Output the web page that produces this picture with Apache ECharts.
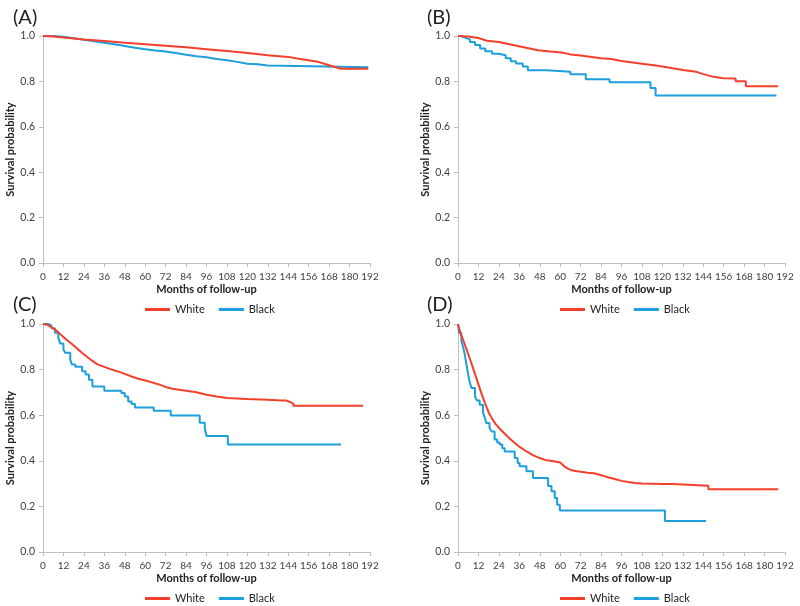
<!DOCTYPE html>
<html>
<head>
<meta charset="utf-8">
<title>Survival by race</title>
<script src="https://cdn.jsdelivr.net/npm/echarts@6/dist/echarts.min.js"></script>
<style>
  html, body { margin: 0; padding: 0; background: #fff; }
  #main { width: 800px; height: 606px; }
</style>
</head>
<body>
<div id="main"></div>
<script>
// months ticks on x axis
var monthTicks = [0, 12, 24, 36, 48, 60, 72, 84, 96, 108, 120, 132, 144, 156, 168, 180, 192];
var panelLabels = ['(A)', '(B)', '(C)', '(D)'];
var groups = ['White', 'Black'];

// panel A  (white drawn as a fine curve, repeated month = visible drop)
var aWhiteT = [0, 6, 12, 24, 36, 48, 60, 72, 84, 96, 108, 120, 132, 144, 150, 156, 162, 168, 172, 175, 191];
var aWhiteS = [1.0, 0.998, 0.993, 0.985, 0.978, 0.970, 0.964, 0.957, 0.950, 0.942, 0.934, 0.925, 0.915, 0.908, 0.900, 0.893, 0.885, 0.871, 0.862, 0.856, 0.856];
var aBlackT = [0, 6, 12, 18, 24, 30, 36, 42, 48, 54, 60, 66, 72, 78, 84, 90, 96, 102, 108, 114, 120, 126, 132, 191];
var aBlackS = [1.0, 0.997, 0.990, 0.983, 0.977, 0.970, 0.964, 0.956, 0.948, 0.942, 0.936, 0.932, 0.925, 0.917, 0.911, 0.906, 0.899, 0.893, 0.886, 0.878, 0.876, 0.870, 0.862, 0.862];

// panel B
var bWhiteT = [0, 6, 12, 17, 24, 33, 40, 47, 54, 61, 66, 72, 84, 90, 96, 108, 115, 120, 126, 133, 140, 144, 150, 156, 163, 163, 169, 169, 188];
var bWhiteS = [1.0, 0.998, 0.991, 0.979, 0.974, 0.959, 0.948, 0.937, 0.932, 0.927, 0.919, 0.914, 0.902, 0.899, 0.890, 0.878, 0.871, 0.866, 0.858, 0.849, 0.842, 0.832, 0.820, 0.814, 0.813, 0.801, 0.801, 0.779, 0.779];
var bBlackT = [0, 2, 4, 7, 10, 13, 16, 20, 24, 28, 31, 34, 38, 41, 52, 66, 75, 89, 113, 116, 187];
var bBlackS = [1.0, 0.993, 0.985, 0.974, 0.960, 0.945, 0.933, 0.922, 0.915, 0.902, 0.889, 0.879, 0.866, 0.849, 0.842, 0.832, 0.810, 0.796, 0.771, 0.738, 0.738];

// panel C
var cWhiteT = [0, 3, 5, 8, 11, 14, 17, 20, 23, 26, 29, 32, 36, 40, 44, 48, 52, 56, 60, 64, 68, 72, 76, 80, 84, 90, 96, 102, 108, 114, 120, 132, 140, 143, 143, 145, 145, 147, 147, 188];
var cWhiteS = [1.0, 0.995, 0.985, 0.970, 0.950, 0.930, 0.912, 0.893, 0.873, 0.855, 0.838, 0.823, 0.812, 0.801, 0.792, 0.781, 0.770, 0.760, 0.752, 0.744, 0.735, 0.724, 0.716, 0.712, 0.707, 0.701, 0.690, 0.682, 0.675, 0.673, 0.671, 0.668, 0.664, 0.664, 0.658, 0.658, 0.650, 0.650, 0.641, 0.641];
var cBlackT = [0, 3, 5, 7, 9, 10, 12, 13, 16, 17, 19, 23, 25, 27, 29, 36, 46, 48, 50, 52, 54, 65, 75, 92, 95, 96, 108.5, 175];
var cBlackS = [1.0, 0.993, 0.981, 0.962, 0.940, 0.915, 0.888, 0.874, 0.844, 0.822, 0.812, 0.793, 0.778, 0.756, 0.726, 0.707, 0.697, 0.682, 0.660, 0.649, 0.634, 0.619, 0.599, 0.567, 0.543, 0.509, 0.472, 0.472];

// panel D
var dWhiteT = [0, 1, 2, 4, 6, 8, 10, 12, 14, 16, 18, 20, 22, 24, 27, 30, 33, 36, 40, 44, 48, 52, 56, 60, 62, 64, 66, 70, 76, 80, 84, 88, 92, 96, 100, 104, 108, 120, 126, 126, 147, 147, 188];
var dWhiteS = [1.0, 0.972, 0.950, 0.910, 0.868, 0.825, 0.780, 0.735, 0.690, 0.650, 0.612, 0.585, 0.562, 0.545, 0.522, 0.500, 0.480, 0.462, 0.442, 0.425, 0.412, 0.402, 0.398, 0.393, 0.378, 0.368, 0.360, 0.354, 0.348, 0.345, 0.337, 0.328, 0.320, 0.312, 0.307, 0.303, 0.300, 0.298, 0.298, 0.291, 0.291, 0.275, 0.275];
var dBlackT = [0, 0.6, 2, 3, 4, 5, 6, 7, 8, 10, 11, 12.7, 14.7, 15.7, 16.6, 18.5, 19.6, 21.5, 23, 24.5, 26, 27.4, 33.3, 35, 36.2, 40.2, 44, 52.9, 54.9, 56.8, 58.2, 59.8, 121.5, 145.6];
var dBlackS = [1.0, 0.961, 0.924, 0.900, 0.866, 0.820, 0.778, 0.740, 0.719, 0.683, 0.665, 0.646, 0.610, 0.590, 0.566, 0.545, 0.529, 0.493, 0.480, 0.471, 0.455, 0.441, 0.412, 0.390, 0.376, 0.354, 0.325, 0.289, 0.266, 0.237, 0.207, 0.182, 0.136, 0.136];

var panels = [
    [[aWhiteT, aWhiteS], [aBlackT, aBlackS]],
    [[bWhiteT, bWhiteS], [bBlackT, bBlackS]],
    [[cWhiteT, cWhiteS], [cBlackT, cBlackS]],
    [[dWhiteT, dWhiteS], [dBlackT, dBlackS]]
];

var colors = ['#F4402B', '#1C9FDB'];
var font = 'Lato';
var gridPos = [
    {left: 43, top: 36, width: 327, height: 227},
    {left: 458, top: 36, width: 327, height: 227},
    {left: 43, top: 324, width: 327, height: 228},
    {left: 458, top: 324, width: 327, height: 228}
];
var labelPos = [[8, 3], [422, 3], [8, 290], [422, 290]];
var legendPos = [[140, 299], [555, 299], [140, 588], [555, 588]];

function zip(t, s) {
    var out = [];
    for (var i = 0; i < t.length; i++) out.push([t[i], s[i]]);
    return out;
}

var titles = [], grids = [], xAxes = [], yAxes = [], series = [], legends = [];

panels.forEach(function(p, i) {
    titles.push({
        text: panelLabels[i],
        left: labelPos[i][0],
        top: labelPos[i][1],
        textStyle: {fontFamily: font, fontSize: 20, fontWeight: 'normal', color: '#222'}
    });
    grids.push(gridPos[i]);
    xAxes.push({
        type: 'value',
        gridIndex: i,
        min: monthTicks[0],
        max: monthTicks[monthTicks.length - 1],
        interval: 12,
        name: 'Months of follow-up',
        nameLocation: 'middle',
        nameGap: 21,
        nameTextStyle: {fontFamily: font, fontSize: 11, fontWeight: 'bold', color: '#222'},
        axisLine: {lineStyle: {color: '#BFBFBF', width: 1}},
        axisTick: {show: true, length: 4, lineStyle: {color: '#BFBFBF'}},
        axisLabel: {fontFamily: font, fontSize: 10, color: '#404040', margin: 9},
        splitLine: {show: false}
    });
    yAxes.push({
        type: 'value',
        gridIndex: i,
        min: 0,
        max: 1,
        interval: 0.2,
        name: 'Survival probability',
        nameLocation: 'middle',
        nameRotate: 90,
        nameGap: 27,
        nameTextStyle: {fontFamily: font, fontSize: 11, fontWeight: 'bold', color: '#222'},
        axisLine: {show: true, lineStyle: {color: '#BFBFBF', width: 1}},
        axisTick: {show: true, length: 4, lineStyle: {color: '#BFBFBF'}},
        axisLabel: {
            fontFamily: font, fontSize: 10.5, color: '#404040', margin: 8,
            formatter: function(v) { return v.toFixed(1); }
        },
        splitLine: {show: false}
    });
    p.forEach(function(curve, j) {
        series.push({
            name: groups[j],
            type: 'line',
            // black curves are drawn as steps, white as a dense curve
            step: j === 1 ? 'end' : false,
            xAxisIndex: i,
            yAxisIndex: i,
            symbol: 'none',
            z: j === 0 ? 3 : 2,
            lineStyle: {color: colors[j], width: 2},
            itemStyle: {color: colors[j]},
            data: zip(curve[0], curve[1])
        });
    });
    legends.push({
        data: groups,
        left: legendPos[i][0],
        top: legendPos[i][1],
        icon: 'rect',
        itemWidth: 25,
        itemHeight: 3,
        itemGap: 14,
        textStyle: {fontFamily: font, fontSize: 11, color: '#222'}
    });
});

var chart = echarts.init(document.getElementById('main'));
chart.setOption({
    animation: false,
    backgroundColor: '#fff',
    title: titles,
    legend: legends,
    grid: grids,
    xAxis: xAxes,
    yAxis: yAxes,
    series: series
});
</script>
</body>
</html>
